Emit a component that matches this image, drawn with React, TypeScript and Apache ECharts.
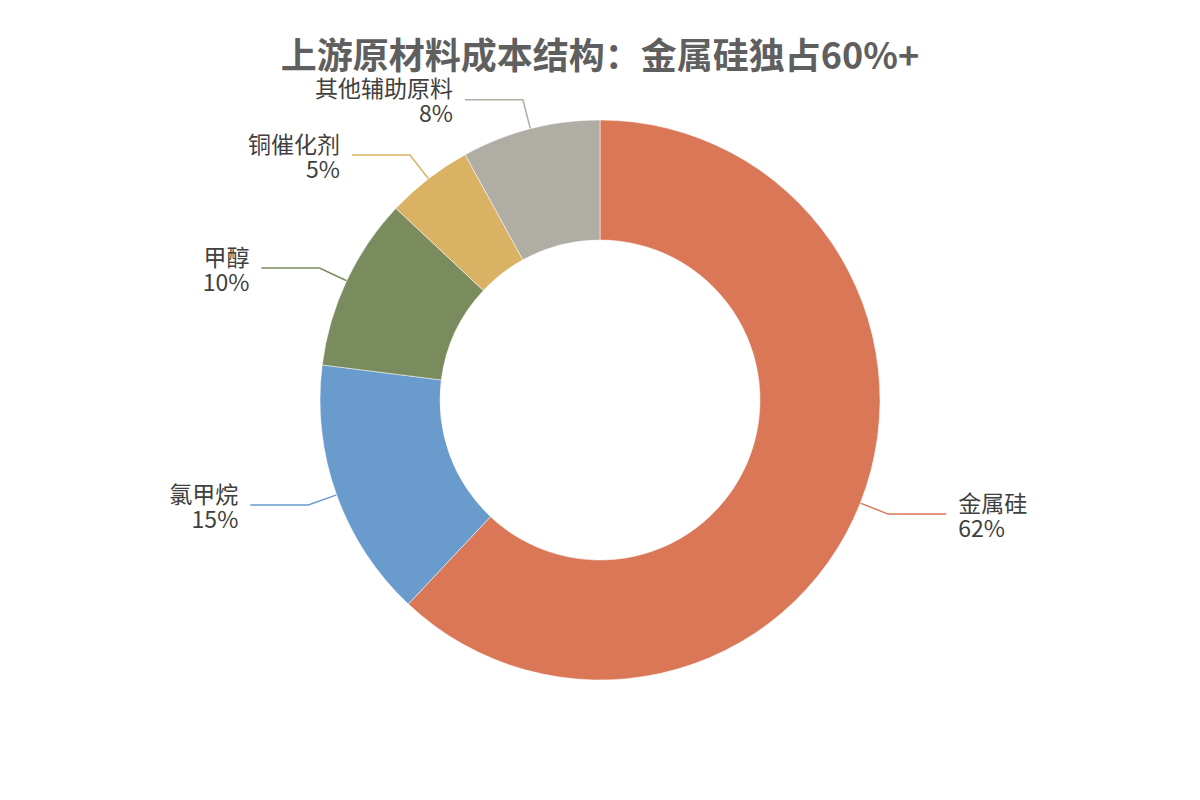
import React, { useEffect, useRef } from "react";
import * as echarts from "echarts";

const titleText = "上游原材料成本结构：金属硅独占60%+";
const categories = ["金属硅", "氯甲烷", "甲醇", "铜催化剂", "其他辅助原料"];
const values = [62, 15, 10, 5, 8];
const colors = ["#D97757", "#6A9BCD", "#7A8B5D", "#D9B263", "#B0ADA4"];

export default function App() {
  const ref = useRef<HTMLDivElement>(null);
  useEffect(() => {
    if (!ref.current) return;
    const chart = echarts.init(ref.current, null, { renderer: "svg" });
    chart.setOption({
      animation: false,
      backgroundColor: "#ffffff",
      title: {
        text: titleText,
        left: "center",
        top: 30,
        textStyle: {
          fontFamily: "Noto Sans CJK SC",
          fontSize: 36,
          fontWeight: "bold",
          color: "#5f5f5f",
        },
      },
      series: [
        {
          type: "pie",
          center: [600, 400],
          radius: [160, 280],
          startAngle: 90,
          clockwise: true,
          avoidLabelOverlap: false,
          itemStyle: { borderColor: "#ffffff", borderWidth: 0.5 },
          label: {
            show: true,
            formatter: "{b}\n{c}%",
            fontFamily: "Noto Sans CJK SC",
            fontSize: 23,
            lineHeight: 25,
            color: "#404040",
            distanceToLabelLine: 12,
          },
          labelLine: {
            show: true,
            length: 30,
            length2: 58,
            lineStyle: { width: 1.5 },
          },
          emphasis: { disabled: true },
          data: categories.map((name, i) => ({
            name,
            value: values[i],
            itemStyle: { color: colors[i] },
            labelLine: { lineStyle: { color: colors[i] } },
          })),
        },
      ],
    });
    return () => chart.dispose();
  }, []);
  return <div ref={ref} style={{ width: 1200, height: 800, margin: -8 }} />;
}
